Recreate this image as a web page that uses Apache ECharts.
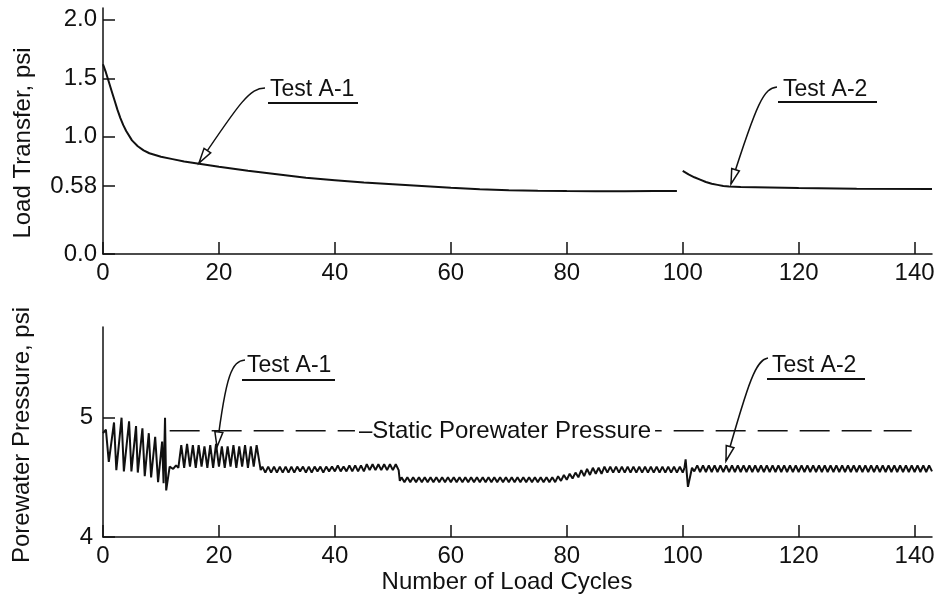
<!DOCTYPE html>
<html>
<head>
<meta charset="utf-8">
<title>Load transfer and porewater pressure</title>
<script src="https://cdn.jsdelivr.net/npm/echarts@6/dist/echarts.min.js"></script>
<style>
  html, body { margin: 0; padding: 0; background: #fff; }
  #chart { width: 940px; height: 597px; }
</style>
</head>
<body>
<div id="chart"></div>
<script>
// tick labels
const xTicks = [0, 20, 40, 60, 80, 100, 120, 140]
const loadTicks = [0, 0.58, 1.0, 1.5, 2.0]
const poreTicks = [4, 5]

// load transfer (psi) vs number of load cycles
const loadA1 = [
  [0, 1.62], [0.5, 1.55], [1, 1.47], [1.5, 1.39], [2, 1.31], [2.5, 1.23], [3, 1.16], [3.5, 1.10],
  [4, 1.05], [5, 0.97], [6, 0.92], [7, 0.885], [8, 0.86], [10, 0.83], [12, 0.81], [14, 0.79],
  [16, 0.775], [18, 0.76], [20, 0.745], [25, 0.71], [30, 0.68], [35, 0.65], [40, 0.63], [45, 0.61],
  [50, 0.595], [55, 0.58], [60, 0.565], [65, 0.553], [70, 0.545], [75, 0.54], [80, 0.537],
  [85, 0.536], [90, 0.536], [95, 0.537], [99, 0.538]
]
const loadA2 = [
  [100, 0.71], [101, 0.68], [102, 0.655], [103, 0.635], [104, 0.615], [105, 0.60], [106, 0.59],
  [107, 0.58], [108, 0.576], [110, 0.572], [115, 0.568], [120, 0.564], [130, 0.558], [143, 0.555]
]

// static porewater pressure (psi)
const staticPore = [[11.5, 4.89], [139.5, 4.89]]

// porewater pressure (psi) vs number of load cycles
const poreA1 = [
  [0, 4.87], [0.5, 4.90], [1.0, 4.63], [1.9, 4.96], [2.3, 4.56], [3.2, 5.00], [3.6, 4.55], [4.5, 4.97],
  [4.9, 4.55], [5.7, 4.93], [6.0, 4.54], [6.8, 4.91], [7.2, 4.51], [7.9, 4.87], [8.3, 4.50], [9.0, 4.84],
  [9.5, 4.46], [10.2, 4.80], [10.45, 4.45], [10.7, 5.00], [10.9, 4.39], [11.5, 4.59], [12.1, 4.57],
  [12.6, 4.60], [13.0, 4.58],
  [13.5, 4.77], [14, 4.58], [14.5, 4.78], [15, 4.59], [15.5, 4.77], [16, 4.58], [16.5, 4.77], [17, 4.59],
  [17.5, 4.76], [18, 4.58], [18.5, 4.77], [19, 4.58], [19.5, 4.78], [20, 4.59], [20.5, 4.76], [21, 4.58],
  [21.5, 4.76], [22, 4.59], [22.5, 4.77], [23, 4.58], [23.5, 4.76], [24, 4.59], [24.5, 4.77], [25, 4.58],
  [25.5, 4.76], [26, 4.59], [26.5, 4.77], [27.2, 4.56],
  [27.5, 4.59], [28, 4.54], [28.5, 4.59], [29, 4.54], [29.5, 4.59], [30, 4.54], [30.5, 4.59], [31, 4.54],
  [31.5, 4.59], [32, 4.54], [32.5, 4.59], [33, 4.54], [33.5, 4.59], [34, 4.55], [34.5, 4.59], [35, 4.54],
  [35.5, 4.59], [36, 4.54], [36.5, 4.59], [37, 4.55], [37.5, 4.59], [38, 4.54], [38.5, 4.59], [39, 4.55],
  [39.5, 4.59], [40, 4.55], [40.5, 4.60], [41, 4.55], [41.5, 4.59], [42, 4.55], [42.5, 4.60], [43, 4.55],
  [43.5, 4.60], [44, 4.55], [44.5, 4.60], [45, 4.55], [45.5, 4.61], [46, 4.56], [46.5, 4.61], [47, 4.56],
  [47.5, 4.61], [48, 4.56], [48.5, 4.61], [49, 4.56], [49.5, 4.61], [50, 4.56], [50.5, 4.61], [51, 4.56],
  [51.2, 4.47], [51.5, 4.50], [52, 4.46], [52.5, 4.50], [53, 4.46], [53.5, 4.50], [54, 4.46], [54.5, 4.50],
  [55, 4.46], [55.5, 4.50], [56, 4.46], [56.5, 4.50], [57, 4.46], [57.5, 4.50], [58, 4.46], [58.5, 4.50],
  [59, 4.46], [59.5, 4.50], [60, 4.46], [60.5, 4.50], [61, 4.46], [61.5, 4.50], [62, 4.46], [62.5, 4.50],
  [63, 4.46], [63.5, 4.50], [64, 4.46], [64.5, 4.50], [65, 4.46], [65.5, 4.50], [66, 4.46], [66.5, 4.50],
  [67, 4.46], [67.5, 4.50], [68, 4.46], [68.5, 4.50], [69, 4.46], [69.5, 4.50], [70, 4.46], [70.5, 4.50],
  [71, 4.46], [71.5, 4.50], [72, 4.46], [72.5, 4.50], [73, 4.46], [73.5, 4.50], [74, 4.46], [74.5, 4.50],
  [75, 4.46], [75.5, 4.50], [76, 4.46], [76.5, 4.50], [77, 4.46], [77.5, 4.50], [78, 4.46],
  [78.5, 4.51], [79, 4.47], [79.5, 4.52], [80, 4.48], [80.5, 4.53], [81, 4.49], [81.5, 4.54], [82, 4.50],
  [82.5, 4.56], [83, 4.51], [83.5, 4.57], [84, 4.52], [84.5, 4.58], [85, 4.53], [85.5, 4.58], [86, 4.53],
  [86.5, 4.59], [87, 4.54], [87.5, 4.59], [88, 4.54], [88.5, 4.59], [89, 4.54], [89.5, 4.59], [90, 4.54],
  [90.5, 4.59], [91, 4.54], [91.5, 4.59], [92, 4.54], [92.5, 4.59], [93, 4.54], [93.5, 4.59], [94, 4.54],
  [94.5, 4.59], [95, 4.54], [95.5, 4.59], [96, 4.54], [96.5, 4.59], [97, 4.54], [97.5, 4.59], [98, 4.54],
  [98.5, 4.59], [99, 4.54], [99.5, 4.59], [100, 4.54], [100.3, 4.58]
]
const poreA2 = [
  [100.3, 4.58], [100.5, 4.65], [100.9, 4.42], [101.6, 4.58], [102, 4.55],
  [102.5, 4.60], [103, 4.545], [103.5, 4.60], [104, 4.545], [104.5, 4.60], [105, 4.545], [105.5, 4.60],
  [106, 4.545], [106.5, 4.60], [107, 4.545], [107.5, 4.60], [108, 4.545], [108.5, 4.60], [109, 4.545],
  [109.5, 4.60], [110, 4.545], [110.5, 4.60], [111, 4.545], [111.5, 4.60], [112, 4.545], [112.5, 4.60],
  [113, 4.545], [113.5, 4.60], [114, 4.545], [114.5, 4.60], [115, 4.545], [115.5, 4.60], [116, 4.545],
  [116.5, 4.60], [117, 4.545], [117.5, 4.60], [118, 4.545], [118.5, 4.60], [119, 4.545], [119.5, 4.60],
  [120, 4.545], [120.5, 4.60], [121, 4.545], [121.5, 4.60], [122, 4.545], [122.5, 4.60], [123, 4.545],
  [123.5, 4.60], [124, 4.545], [124.5, 4.60], [125, 4.545], [125.5, 4.60], [126, 4.545], [126.5, 4.60],
  [127, 4.545], [127.5, 4.60], [128, 4.545], [128.5, 4.60], [129, 4.545], [129.5, 4.60], [130, 4.545],
  [130.5, 4.60], [131, 4.545], [131.5, 4.60], [132, 4.545], [132.5, 4.60], [133, 4.545], [133.5, 4.60],
  [134, 4.545], [134.5, 4.60], [135, 4.545], [135.5, 4.60], [136, 4.545], [136.5, 4.60], [137, 4.545],
  [137.5, 4.60], [138, 4.545], [138.5, 4.60], [139, 4.545], [139.5, 4.60], [140, 4.545], [140.5, 4.60],
  [141, 4.545], [141.5, 4.60], [142, 4.545], [142.5, 4.60], [143, 4.55]
]

const ink = '#111'
const font = 'Liberation Sans'

function xAxisCfg(gridIndex) {
  return {
    type: 'value',
    gridIndex: gridIndex,
    min: 0,
    max: 143,
    axisLine: { onZero: false, lineStyle: { color: ink, width: 1.5 } },
    axisTick: { inside: true, length: 12, customValues: xTicks, lineStyle: { color: ink, width: 1.5 } },
    axisLabel: { customValues: xTicks, margin: 7, color: ink, fontFamily: font, fontSize: 24 },
    splitLine: { show: false }
  }
}

function lineSeries(data, xi, yi) {
  return {
    type: 'line',
    xAxisIndex: xi,
    yAxisIndex: yi,
    data: data,
    symbol: 'none',
    smooth: false,
    lineStyle: { color: ink, width: 2 }
  }
}

// open arrowhead pointing at tip, coming from the direction of "from"
function arrowHead(tip, from) {
  const dx = tip[0] - from[0], dy = tip[1] - from[1]
  const len = Math.sqrt(dx * dx + dy * dy)
  const ux = dx / len, uy = dy / len
  const bx = tip[0] - ux * 15, by = tip[1] - uy * 15
  return {
    type: 'polygon',
    z: 100,
    shape: { points: [tip, [bx - uy * 4, by + ux * 4], [bx + uy * 4, by - ux * 4]] },
    style: { fill: '#fff', stroke: ink, lineWidth: 1.5 }
  }
}

function callout(label, tx, ty, ulFrom, ulTo, ulY, curve) {
  return [
    { type: 'text', z: 100, x: tx, y: ty,
      style: { text: label, fill: ink, font: '23px "' + font + '"', verticalAlign: 'middle' } },
    { type: 'line', z: 100, shape: { x1: ulFrom, y1: ulY, x2: ulTo, y2: ulY },
      style: { stroke: ink, lineWidth: 2 } },
    { type: 'bezierCurve', z: 100,
      shape: { x1: curve[0][0], y1: curve[0][1], cpx1: curve[1][0], cpy1: curve[1][1],
               cpx2: curve[2][0], cpy2: curve[2][1], x2: curve[3][0], y2: curve[3][1] },
      style: { stroke: ink, lineWidth: 1.5, fill: null } },
    arrowHead(curve[3], curve[2])
  ]
}

const chart = echarts.init(document.getElementById('chart'))

const option = {
  animation: false,
  backgroundColor: '#fff',
  grid: [
    { left: 103, right: 8, top: 8, height: 246 },
    { left: 103, right: 8, top: 327, height: 210 }
  ],
  xAxis: [xAxisCfg(0), xAxisCfg(1)],
  yAxis: [
    {
      type: 'value', gridIndex: 0, min: 0, max: 2.1,
      axisLine: { show: true, lineStyle: { color: ink, width: 1.5 } },
      axisTick: { show: true, inside: true, length: 12, customValues: loadTicks, lineStyle: { color: ink, width: 1.5 } },
      axisLabel: {
        customValues: loadTicks, margin: 6, color: ink, fontFamily: font, fontSize: 24,
        formatter: v => (v === 0.58 ? '0.58' : v.toFixed(1))
      },
      splitLine: { show: false }
    },
    {
      type: 'value', gridIndex: 1, min: 4, max: 5.76,
      axisLine: { show: true, lineStyle: { color: ink, width: 1.5 } },
      axisTick: { show: true, inside: true, length: 12, customValues: poreTicks, lineStyle: { color: ink, width: 1.5 } },
      axisLabel: { customValues: poreTicks, margin: 10, color: ink, fontFamily: font, fontSize: 24 },
      splitLine: { show: false }
    }
  ],
  series: [
    lineSeries(loadA1, 0, 0),
    lineSeries(loadA2, 0, 0),
    lineSeries(poreA1, 1, 1),
    lineSeries(poreA2, 1, 1),
    {
      type: 'line', xAxisIndex: 1, yAxisIndex: 1, data: staticPore, symbol: 'none',
      lineStyle: { color: ink, width: 1.5, type: [30, 12] }
    }
  ],
  graphic: [
    { type: 'text', z: 100, x: 23, y: 143, rotation: Math.PI / 2,
      style: { text: 'Load Transfer, psi', fill: ink, font: '24px "' + font + '"', align: 'center', verticalAlign: 'middle' } },
    { type: 'text', z: 100, x: 22, y: 435, rotation: Math.PI / 2,
      style: { text: 'Porewater Pressure, psi', fill: ink, font: '24px "' + font + '"', align: 'center', verticalAlign: 'middle' } },
    { type: 'text', z: 100, x: 507, y: 582,
      style: { text: 'Number of Load Cycles', fill: ink, font: '24px "' + font + '"', align: 'center', verticalAlign: 'middle' } },
    { type: 'text', z: 100, x: 505, y: 431,
      style: { text: '–Static Porewater Pressure', fill: ink, font: '24px "' + font + '"', align: 'center', verticalAlign: 'middle',
               backgroundColor: '#fff', padding: [0, 4] } }
  ]
    .concat(callout('Test A-1', 270, 90, 268, 358, 103, [[265, 88], [250, 88], [240, 102], [199, 163]]))
    .concat(callout('Test A-2', 783, 90, 778, 877, 102, [[777, 87], [764, 88], [757, 102], [731, 184]]))
    .concat(callout('Test A-1', 247, 366, 242, 335, 380, [[245, 360], [232, 361], [226, 374], [217, 447]]))
    .concat(callout('Test A-2', 772, 366, 767, 865, 379, [[768, 358], [756, 360], [749, 380], [726, 461]]))
}

chart.setOption(option)
window.addEventListener('resize', function () {
  chart.resize()
})
</script>
</body>
</html>
